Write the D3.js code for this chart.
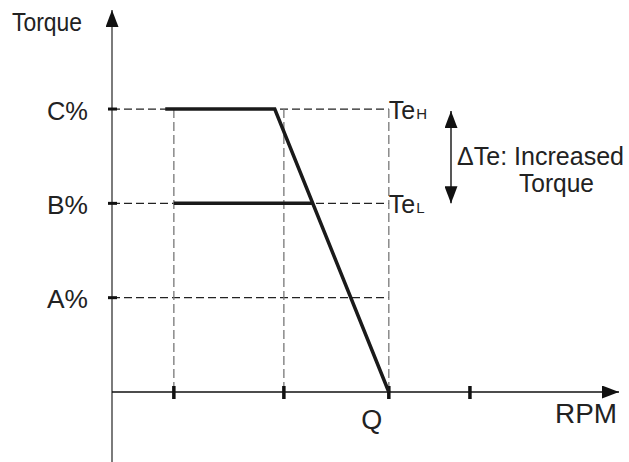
<!DOCTYPE html>
<html>
<head>
<meta charset="utf-8">
<script src="https://cdn.jsdelivr.net/npm/d3@7"></script>
<style>
  html, body { margin: 0; padding: 0; background: #fff; }
  svg { display: block; font-family: "Liberation Sans", Arial, sans-serif; }
</style>
</head>
<body>
<svg id="viz"></svg>
<script>
// Torque / RPM characteristic: increased torque between TeL and TeH

// torque levels (A%, B%, C%) as units on the y scale
const torqueLabels = ['A%', 'B%', 'C%'];
const torqueLevels = [1, 2, 3];

// rpm tick positions (x axis units, 0..100)
const rpmTicks = [12.2, 33.9, 54.6, 70.6];
const rpmTickLabels = ['', '', 'Q', ''];

// high torque curve TeH: flat at C then falls to Q
const curveHigh = [
    {rpm: 10.5, torque: 3},
    {rpm: 32.1, torque: 3},
    {rpm: 54.6, torque: 0}
];
// low torque curve TeL: flat at B until it meets the falling edge
const curveLow = [
    {rpm: 12.2, torque: 2},
    {rpm: 39.6, torque: 2}
];

const width = 629;
const height = 462;

const svg = d3.select('#viz')
    .attr('width', width)
    .attr('height', height);

const x = d3.scaleLinear().domain([0, 100]).range([112, 619]);
const y = d3.scaleLinear().domain([0, 4.05]).range([392, 10]);

// Marcadores das setas
const defs = svg.append('defs');
defs.append('marker')
    .attr('id', 'arrow')
    .attr('markerUnits', 'userSpaceOnUse')
    .attr('viewBox', '0 0 17 13')
    .attr('refX', 17)
    .attr('refY', 6.5)
    .attr('markerWidth', 17)
    .attr('markerHeight', 13)
    .attr('orient', 'auto-start-reverse')
    .append('path')
    .attr('d', 'M0,0 L17,6.5 L0,13 Z')
    .attr('fill', '#111');

// Linhas tracejadas de referência
const topLevel = d3.max(torqueLevels);
const xRight = x(rpmTicks[2]);

svg.append('g')
    .selectAll('line')
    .data(torqueLevels)
    .enter()
    .append('line')
    .attr('x1', x(0))
    .attr('x2', xRight)
    .attr('y1', (d) => y(d))
    .attr('y2', (d) => y(d))
    .attr('stroke', '#222')
    .attr('stroke-width', 1.2)
    .attr('stroke-dasharray', '8,4');

svg.append('g')
    .selectAll('line')
    .data(rpmTicks.slice(0, 3))
    .enter()
    .append('line')
    .attr('x1', (d) => x(d))
    .attr('x2', (d) => x(d))
    .attr('y1', y(topLevel))
    .attr('y2', y(0))
    .attr('stroke', '#777')
    .attr('stroke-width', 1.3)
    .attr('stroke-dasharray', '9,4');

// Eixos
svg.append('line')
    .attr('x1', x(0)).attr('x2', x(0))
    .attr('y1', height).attr('y2', y(4.05))
    .attr('stroke', '#444')
    .attr('stroke-width', 1.4)
    .attr('marker-end', 'url(#arrow)');

svg.append('line')
    .attr('x1', x(0)).attr('x2', x(100))
    .attr('y1', y(0)).attr('y2', y(0))
    .attr('stroke', '#111')
    .attr('stroke-width', 1.4)
    .attr('marker-end', 'url(#arrow)');

// Marcas dos eixos
svg.append('g')
    .selectAll('line')
    .data(torqueLevels)
    .enter()
    .append('line')
    .attr('x1', x(0) - 4).attr('x2', x(0) + 5)
    .attr('y1', (d) => y(d)).attr('y2', (d) => y(d))
    .attr('stroke', '#111')
    .attr('stroke-width', 3);

svg.append('g')
    .selectAll('line')
    .data(rpmTicks)
    .enter()
    .append('line')
    .attr('x1', (d) => x(d)).attr('x2', (d) => x(d))
    .attr('y1', y(0) - 6).attr('y2', y(0) + 7)
    .attr('stroke', '#111')
    .attr('stroke-width', 3.5);

// Rótulos
svg.append('g')
    .selectAll('text')
    .data(torqueLevels)
    .enter()
    .append('text')
    .attr('x', 47)
    .attr('y', (d) => y(d) + 10.5)
    .attr('textLength', 41)
    .attr('lengthAdjust', 'spacingAndGlyphs')
    .style('font-size', '26px')
    .style('fill', '#222')
    .text((d, i) => torqueLabels[i]);

svg.append('g')
    .selectAll('text')
    .data(rpmTicks)
    .enter()
    .append('text')
    .attr('x', (d) => x(d) - 17)
    .attr('y', 429)
    .attr('text-anchor', 'middle')
    .style('font-size', '27px')
    .style('fill', '#222')
    .text((d, i) => rpmTickLabels[i]);

svg.append('text')
    .attr('x', 555)
    .attr('y', 423)
    .attr('textLength', 62)
    .attr('lengthAdjust', 'spacingAndGlyphs')
    .style('font-size', '27px')
    .style('fill', '#222')
    .text('RPM');

svg.append('text')
    .attr('x', 12)
    .attr('y', 31)
    .attr('textLength', 70)
    .attr('lengthAdjust', 'spacingAndGlyphs')
    .style('font-size', '26px')
    .style('fill', '#222')
    .text('Torque');

// Curvas de torque
const line = d3.line()
    .x((d) => x(d.rpm))
    .y((d) => y(d.torque));

svg.append('path')
    .datum(curveHigh)
    .attr('d', line)
    .attr('fill', 'none')
    .attr('stroke', '#1a1a1a')
    .attr('stroke-width', 3.5)
    .attr('stroke-linejoin', 'miter');

svg.append('path')
    .datum(curveLow)
    .attr('d', line)
    .attr('fill', 'none')
    .attr('stroke', '#1a1a1a')
    .attr('stroke-width', 3.5);

// Te H / Te L
const teLabels = [{level: 3, sub: 'H'}, {level: 2, sub: 'L'}];
const te = svg.append('g')
    .selectAll('text')
    .data(teLabels)
    .enter()
    .append('text')
    .attr('x', xRight)
    .attr('y', (d) => y(d.level) + 10)
    .style('font-size', '25px')
    .style('fill', '#222');
te.append('tspan').text('Te');
te.append('tspan').attr('dx', 1).style('font-size', '15px').text((d) => d.sub);

// Seta dupla do ΔTe
svg.append('line')
    .attr('x1', 451).attr('x2', 451)
    .attr('y1', y(3) + 2).attr('y2', y(2))
    .attr('stroke', '#111')
    .attr('stroke-width', 1.4)
    .attr('marker-start', 'url(#arrow)')
    .attr('marker-end', 'url(#arrow)');

svg.append('text')
    .attr('x', 457)
    .attr('y', 165)
    .attr('textLength', 167)
    .attr('lengthAdjust', 'spacingAndGlyphs')
    .style('font-size', '25px')
    .style('fill', '#222')
    .text('ΔTe: Increased');

svg.append('text')
    .attr('x', 519)
    .attr('y', 192)
    .attr('textLength', 75)
    .attr('lengthAdjust', 'spacingAndGlyphs')
    .style('font-size', '25px')
    .style('fill', '#222')
    .text('Torque');
</script>
</body>
</html>
